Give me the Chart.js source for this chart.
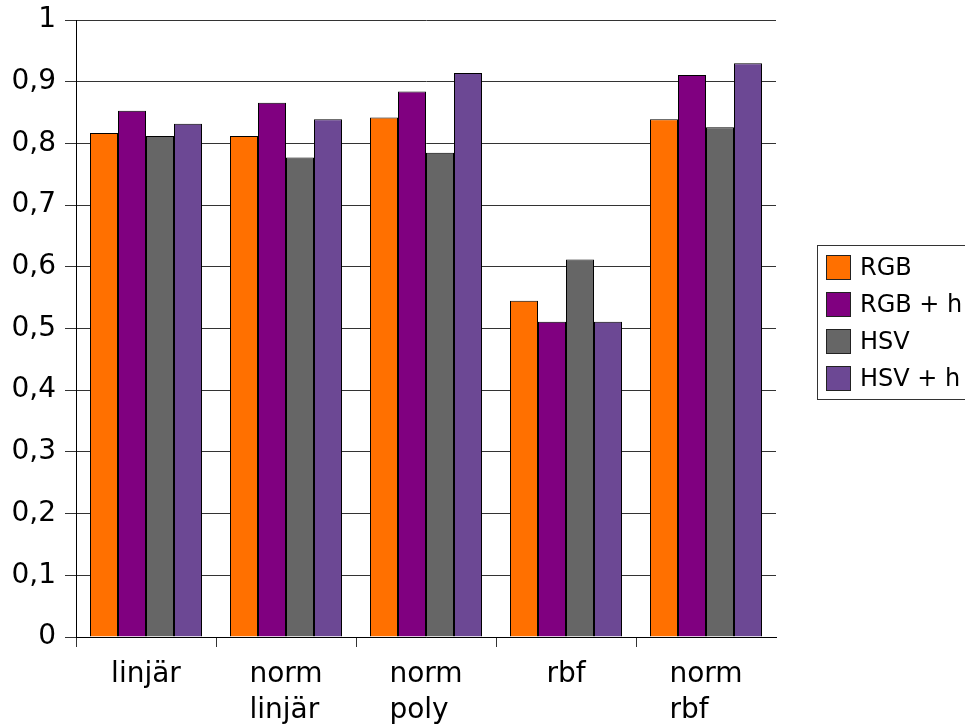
<!DOCTYPE html>
<html>
<head>
<meta charset="utf-8">
<script src="https://cdn.jsdelivr.net/npm/chart.js@4/dist/chart.umd.min.js"></script>
<style>
  body { margin: 0; overflow: hidden; background: #fff; }
  #wrap { position: relative; width: 965px; height: 726px; }
  #legend { position: absolute; left: 817px; top: 245px; width: 200px; height: 155px;
            border: 1px solid #333; box-sizing: border-box; font-family: "DejaVu Sans"; }
  .item { position: absolute; left: 8px; height: 25px; }
  .sw { position: absolute; left: 0; top: 0; width: 25px; height: 25px;
        box-sizing: border-box; border: 1px solid #222; }
  .lbl { position: absolute; left: 34px; top: 0; line-height: 25px; font-size: 24px;
         color: #000; white-space: nowrap; }
</style>
</head>
<body>
<div id="wrap">
  <canvas id="chart" width="965" height="726"></canvas>
  <div id="legend"></div>
</div>
<script>
const categories = ["linjär", ["norm", "linjär"], ["norm", "poly"], "rbf", ["norm", "rbf"]];
const seriesNames = ["RGB", "RGB + h", "HSV", "HSV + h"];
const rgb = [0.817, 0.812, 0.842, 0.545, 0.839];
const rgbH = [0.853, 0.866, 0.884, 0.511, 0.911];
const hsv = [0.812, 0.777, 0.785, 0.612, 0.826];
const hsvH = [0.832, 0.839, 0.914, 0.511, 0.930];
const colors = ["#ff7000", "#800080", "#666666", "#6c4894"];

const values = [rgb, rgbH, hsv, hsvH];
const font = "DejaVu Sans";

// x labels: multi-line labels are left aligned inside a centred block
const xLabels = {
  id: "xLabels",
  afterDraw(chart) {
    const ctx = chart.ctx;
    const xs = chart.scales.x;
    ctx.save();
    ctx.font = "28px '" + font + "'";
    ctx.fillStyle = "#000";
    ctx.textAlign = "left";
    ctx.textBaseline = "alphabetic";
    categories.forEach((c, i) => {
      const lines = Array.isArray(c) ? c : [c];
      const w = Math.max(...lines.map(l => ctx.measureText(l).width));
      const x0 = xs.getPixelForTick(i) - w / 2;
      lines.forEach((l, j) => ctx.fillText(l, x0, xs.top + 45 + j * 35.5));
    });
    ctx.restore();
  }
};

new Chart(document.getElementById("chart"), {
  type: "bar",
  data: {
    labels: categories,
    datasets: seriesNames.map((n, i) => ({
      label: n,
      data: values[i],
      backgroundColor: colors[i],
      borderColor: "#000",
      borderWidth: 1,
      categoryPercentage: 0.8,
      barPercentage: 1.0
    }))
  },
  options: {
    responsive: false,
    animation: false,
    layout: { padding: { top: 20, right: 189, bottom: 0, left: 0 } },
    plugins: { legend: { display: false }, tooltip: { enabled: false } },
    scales: {
      x: {
        offset: true,
        grid: {
          offset: true,
          drawOnChartArea: false,
          drawTicks: true,
          tickLength: 10,
          color: c => c.tick ? "#333" : "rgba(0,0,0,0)"
        },
        border: { color: "#000", width: 1 },
        ticks: { display: false },
        afterFit: s => { s.height = 89; }
      },
      y: {
        min: 0,
        max: 1,
        grid: { color: "#333", tickLength: 11 },
        border: { color: "#000", width: 1 },
        ticks: {
          stepSize: 0.1,
          padding: 9,
          color: "#000",
          font: { family: font, size: 28 },
          callback: v => String(Math.round(v * 10) / 10).replace(".", ",")
        },
        afterFit: s => { s.width = 76; s.paddingTop = 0; s.paddingBottom = 0; }
      }
    }
  },
  plugins: [xLabels]
});

// legend box
const legend = document.getElementById("legend");
seriesNames.forEach((n, i) => {
  const item = document.createElement("div");
  item.className = "item";
  item.style.top = (9 + i * 37) + "px";
  item.innerHTML = '<div class="sw" style="background:' + colors[i] + '"></div><div class="lbl">' + n + '</div>';
  legend.appendChild(item);
});
</script>
</body>
</html>
